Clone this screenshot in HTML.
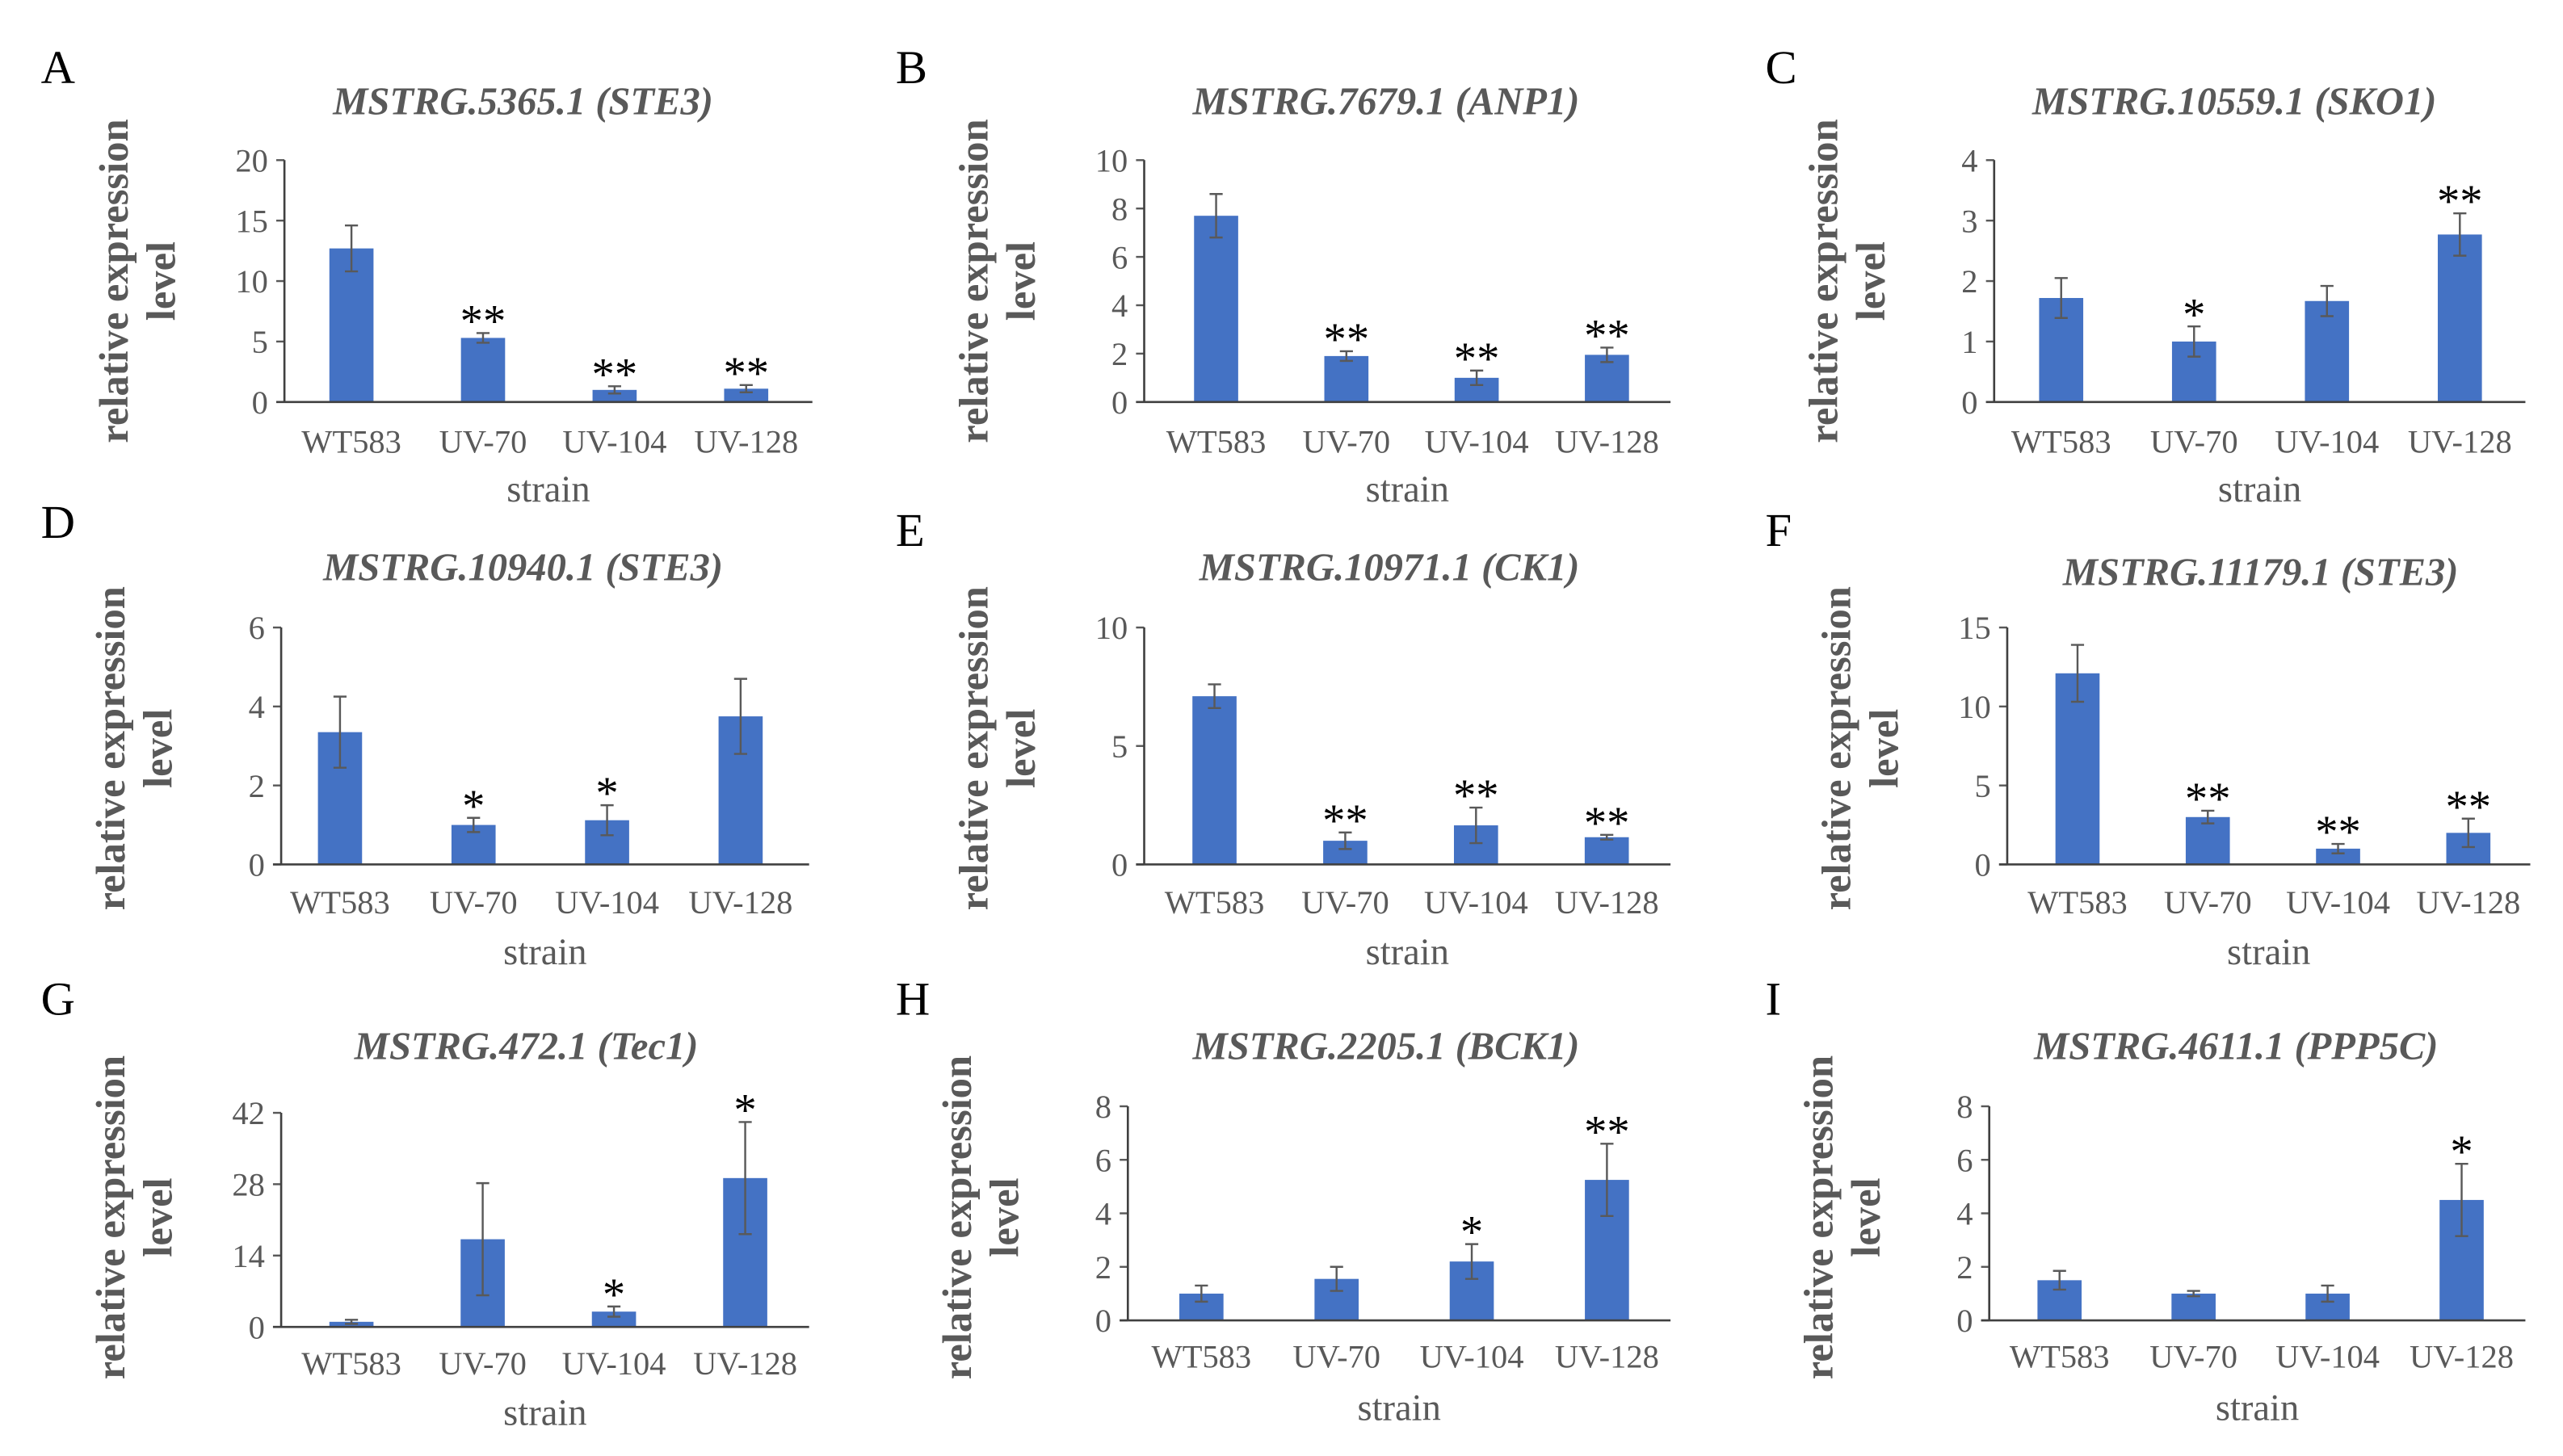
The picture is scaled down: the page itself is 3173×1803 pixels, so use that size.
<!DOCTYPE html>
<html><head><meta charset="utf-8">
<style>
html,body{margin:0;padding:0;background:#fff;}
svg{display:block;font-family:"Liberation Serif","DejaVu Serif",serif;}
</style></head>
<body>
<svg id="fig" width="3173" height="1803" viewBox="0 0 1568 891" xmlns="http://www.w3.org/2000/svg" font-family="Liberation Serif, serif"></svg>
<script>
const panelLetters = ['A','B','C','D','E','F','G','H','I'];
const panelTitles = ['MSTRG.5365.1 (STE3)','MSTRG.7679.1 (ANP1)','MSTRG.10559.1 (SKO1)','MSTRG.10940.1 (STE3)','MSTRG.10971.1 (CK1)','MSTRG.11179.1 (STE3)','MSTRG.472.1 (Tec1)','MSTRG.2205.1 (BCK1)','MSTRG.4611.1 (PPP5C)'];
const categories = ['WT583','UV-70','UV-104','UV-128'];
const yMaxes = [20,10,4,6,10,15,42,8,8];
const yStepsArr = [5,2,1,2,5,5,14,2,2];
const valsA = [12.7,5.3,1.0,1.1];
const valsB = [7.7,1.9,1.0,1.95];
const valsC = [1.72,1.0,1.67,2.77];
const valsD = [3.35,1.0,1.12,3.75];
const valsE = [7.1,1.0,1.65,1.15];
const valsF = [12.1,3.0,1.0,2.0];
const valsG = [1.0,17.2,3.0,29.2];
const valsH = [1.0,1.55,2.2,5.25];
const valsI = [1.5,1.0,1.0,4.5];
const errA = [1.9,0.4,0.3,0.3];
const errB = [0.9,0.2,0.3,0.3];
const errC = [0.33,0.25,0.25,0.35];
const errD = [0.9,0.18,0.38,0.95];
const errE = [0.5,0.35,0.75,0.1];
const errF = [1.8,0.4,0.3,0.9];
const errG = [0.4,11,1,11];
const errH = [0.3,0.45,0.65,1.35];
const errI = [0.35,0.1,0.3,1.35];
const starsA = ['','**','**','**'];
const starsB = ['','**','**','**'];
const starsC = ['','*','','**'];
const starsD = ['','*','*',''];
const starsE = ['','**','**','**'];
const starsF = ['','**','**','**'];
const starsG = ['','','*','*'];
const starsH = ['','','*','**'];
const starsI = ['','','','*'];
const allVals=[valsA,valsB,valsC,valsD,valsE,valsF,valsG,valsH,valsI];
const allErr=[errA,errB,errC,errD,errE,errF,errG,errH,errI];
const allStars=[starsA,starsB,starsC,starsD,starsE,starsF,starsG,starsH,starsI];

const layout=[
 [174,497,215,80.5,98,246,320,62,27,42,270,300,172],
 [700,1022,744,79.7,98,246,848,62,550,42,270,300,172],
 [1220,1545,1261,81.3,98,246,1367,62,1082,42,270,300,172],
 [172,495,208,81.7,384,529,320,347,27,320,552,583,458],
 [700,1022,743,80,384,529,850,347,550,325,552,583,458],
 [1228,1548,1271,79.7,384,529,1383,350,1082,325,552,583,458],
 [172,495,215,80.3,681,812,322,640,27,612,834,865,745],
 [690,1022,735,82.7,677,808,848,640,550,612,830,862,745],
 [1217,1545,1260,82,677,808,1368,640,1082,612,830,862,745]
];
const FF='Liberation Serif, DejaVu Serif, serif';
const NS='http://www.w3.org/2000/svg';
const svg=document.getElementById('fig');
function mk(tag,attrs,parent){const e=document.createElementNS(NS,tag);for(const k in attrs)e.setAttribute(k,attrs[k]);if(tag==='text')e.setAttribute('font-family',FF);(parent||svg).appendChild(e);return e;}
for(let p=0;p<9;p++){
  const [ax,xe,c0,cs,yt,y0,tx,ty,lx,ly,tky,sty,yty]=layout[p];
  const g=mk('g',{});
  
  
  const yMax=yMaxes[p], step=yStepsArr[p];
  const yS=v=>y0-(v/yMax)*(y0-yt);
  const xS=i=>c0+i*cs;
  let t=mk('text',{x:lx-2,y:ly+9,'font-size':29,fill:'#000'},g);t.textContent=panelLetters[p];
  
  t=mk('text',{x:tx,y:ty+8,'font-size':24,'font-weight':'bold','font-style':'italic',fill:'#595959','text-anchor':'middle'},g);t.textContent=panelTitles[p];
  
  t=mk('text',{transform:`translate(${ax-96},${yty}) rotate(-90)`,'font-size':25,'font-weight':'bold',fill:'#595959','text-anchor':'middle'},g);t.textContent='relative expression';
  
  t=mk('text',{transform:`translate(${ax-67},${yty}) rotate(-90)`,'font-size':25,'font-weight':'bold',fill:'#595959','text-anchor':'middle'},g);t.textContent='level';
  
  for(let v=0;v<=yMax+1e-9;v+=step){
    const y=yS(v);
    let l=mk('line',{x1:ax-5,x2:ax,y1:y,y2:y,stroke:'#595959','stroke-width':1.2},g);
    
    t=mk('text',{x:ax-10,y:y+7,'font-size':20,fill:'#595959','text-anchor':'end'},g);t.textContent=v;
    
  }
  let l=mk('line',{x1:ax,x2:ax,y1:yt,y2:y0,stroke:'#404040','stroke-width':1.3},g);
  
  const vals=allVals[p],errs=allErr[p],stars=allStars[p];
  for(let i=0;i<categories.length;i++){
    const cx=xS(i), bw=27;
    const r=mk('rect',{x:cx-bw/2,y:yS(vals[i]),width:bw,height:y0-yS(vals[i]),fill:'#4472c4'},g);
    
    const eT=yS(vals[i]+errs[i]),eB=yS(vals[i]-errs[i]);
    const e=mk('path',{d:`M${cx},${eT}V${eB}M${cx-4},${eT}H${cx+4}M${cx-4},${eB}H${cx+4}`,stroke:'#595959','stroke-width':1.2,fill:'none'},g);
    
    if(stars[i]){
      t=mk('text',{x:cx,y:eT+2,'font-size':28,fill:'#000','text-anchor':'middle'},g);t.textContent=stars[i];
      
    }
    t=mk('text',{x:cx,y:tky+7,'font-size':20,fill:'#595959','text-anchor':'middle'},g);t.textContent=categories[i];
    
  }
  l=mk('line',{x1:ax-5,x2:xe,y1:y0,y2:y0,stroke:'#404040','stroke-width':1.3},g);
  
  t=mk('text',{x:(ax+xe)/2,y:sty+7,'font-size':23,fill:'#595959','text-anchor':'middle'},g);t.textContent='strain';
  
}
</script>
</body></html>
